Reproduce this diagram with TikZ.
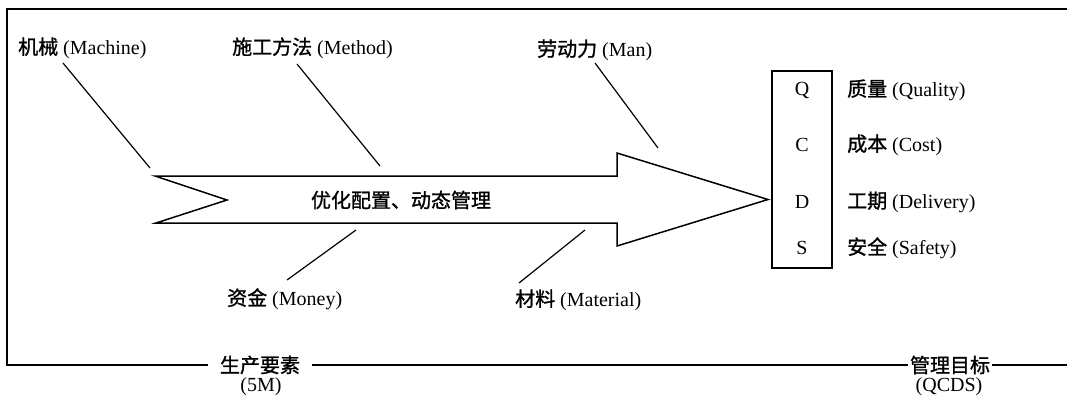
\documentclass[tikz,border=0pt]{standalone}
\usepackage{fontspec}
\setmainfont{Liberation Serif}
\newfontfamily\cjk[FakeBold=1.2]{Noto Sans CJK SC}
\newcommand{\zh}[1]{{\cjk #1}}
\begin{document}
\begin{tikzpicture}[x=1pt,y=-1pt,
  every node/.style={inner sep=0pt,font=\fontsize{20}{23}\selectfont},
  lbl/.style={anchor=west},
  lead/.style={line width=1.2pt},
  frameline/.style={line width=1.2pt},
  arrowbody/.style={line width=1.5pt,line join=miter},
  boxline/.style={line width=1.3pt}]
\useasboundingbox (0,0) rectangle (1067,399);

% frame
\node[fill=white,inner xsep=12pt,inner ysep=2pt] (g5m) at (260,365) {\zh{生产要素}};
\node (g5mb) at (261,387) {(5M)};
\node[fill=white,inner xsep=2pt,inner ysep=2pt] (gq) at (950,365) {\zh{管理目标}};
\node (gqb) at (949,387) {(QCDS)};
\coordinate (ftr) at (1067,9);
\coordinate (ftl) at (7,9);
\coordinate (fbl) at (7,365);
\coordinate (fbr) at (1067,365);
\draw[frameline] (ftr) -- (ftl) -- (fbl) -- (g5m.west);
\draw[frameline] (g5m.east) -- (gq.west);
\draw[frameline] (gq.east) -- (fbr);

% big arrow
\draw[arrowbody] (155,176) -- (617,176) -- (617,153) -- (768,199.5) -- (617,246) -- (617,223) -- (156,223) -- (227,200) -- cycle;
\node (core) at (401,200) {\zh{优化配置、动态管理}};

% factor labels
\node[lbl] (mach) at (18,48) {\zh{机械} (Machine)};
\node[lbl] (meth) at (232,48) {\zh{施工方法} (Method)};
\node[lbl] (man) at (537,50) {\zh{劳动力} (Man)};
\node[lbl] (mon) at (227,299) {\zh{资金} (Money)};
\node[lbl] (mat) at (515,300) {\zh{材料} (Material)};

% leader lines
\coordinate (machA) at (63,63);   \coordinate (machB) at (150,168);
\coordinate (methA) at (297,64);  \coordinate (methB) at (380,166);
\coordinate (manA) at (595,63);   \coordinate (manB) at (658,148);
\coordinate (monA) at (287,280);  \coordinate (monB) at (356,230);
\coordinate (matA) at (519,283);  \coordinate (matB) at (585,230);
\draw[lead] (machA) -- (machB);
\draw[lead] (methA) -- (methB);
\draw[lead] (manA) -- (manB);
\draw[lead] (monA) -- (monB);
\draw[lead] (matA) -- (matB);

% QCDS box
\draw[boxline] (772,71) rectangle (832,268);
\node (q) at (802,90) {Q};
\node (c) at (802,145) {C};
\node (d) at (802,202) {D};
\node (s) at (802,248) {S};
\node[lbl] (ql) at (847,90) {\zh{质量} (Quality)};
\node[lbl] (cl) at (847,145) {\zh{成本} (Cost)};
\node[lbl] (dl) at (847,202) {\zh{工期} (Delivery)};
\node[lbl] (sl) at (847,248) {\zh{安全} (Safety)};
\end{tikzpicture}
\end{document}
